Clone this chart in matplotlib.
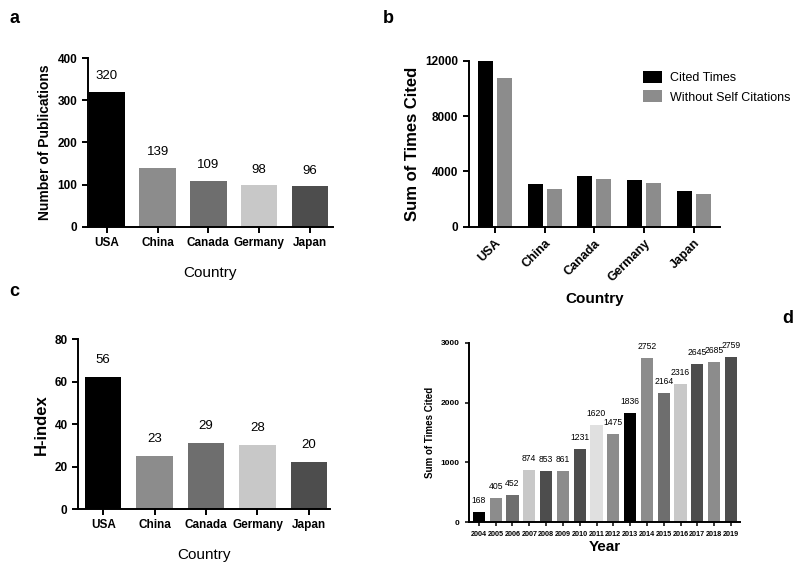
import matplotlib
matplotlib.use("Agg")
import matplotlib.pyplot as plt
import numpy as np

plt.rcParams["font.family"] = ["Liberation Sans", "DejaVu Sans"]

# data
countries = ["USA", "China", "Canada", "Germany", "Japan"]
country_colors = ["#000000", "#8c8c8c", "#6e6e6e", "#c8c8c8", "#4d4d4d"]
publications = [320, 139, 109, 98, 96]

cited_times = [12000, 3100, 3700, 3350, 2600]
without_self = [10750, 2700, 3450, 3150, 2400]

hindex_bars = [62, 25, 31, 30, 22]     # bar heights as drawn
hindex_labels = [56, 23, 29, 28, 20]   # numbers printed above the bars

years = [str(y) for y in range(2004, 2020)]
year_cited = [168, 405, 452, 874, 853, 861, 1231, 1620, 1475, 1836,
              2752, 2164, 2316, 2645, 2685, 2759]
year_colors = ["#000000", "#8c8c8c", "#6e6e6e", "#c8c8c8", "#4d4d4d", "#8c8c8c",
               "#4d4d4d", "#e0e0e0", "#8c8c8c", "#000000", "#8c8c8c", "#6e6e6e",
               "#c8c8c8", "#4d4d4d", "#8c8c8c", "#4d4d4d"]


def prism_axes(ax):
    for s in ["top", "right"]:
        ax.spines[s].set_visible(False)
    for s in ["left", "bottom"]:
        ax.spines[s].set_linewidth(1.4)
    ax.tick_params(direction="out", width=1.4, length=4)


fig = plt.figure(figsize=(8, 5.64), dpi=100)

# panel a
ax = fig.add_axes([0.110, 0.598, 0.306, 0.299])
x = np.arange(len(countries))
ax.bar(x, publications, width=0.72, color=country_colors)
for xi, v in zip(x, publications):
    ax.annotate(str(v), (xi, v), xytext=(0, 7), textcoords="offset points",
                ha="center", va="bottom", fontsize=9.5)
ax.set_xlim(-0.37, 4.45)
ax.set_ylim(0, 400)
ax.set_yticks([0, 100, 200, 300, 400])
ax.set_xticks(x)
ax.set_xticklabels(countries, fontweight="bold", fontsize=8.5)
for t in ax.get_yticklabels():
    t.set_fontweight("bold")
    t.set_fontsize(8.5)
ax.set_ylabel("Number of Publications", fontweight="bold", fontsize=10)
ax.set_xlabel("Country", fontsize=11, labelpad=12)
prism_axes(ax)

# panel b
ax = fig.add_axes([0.586, 0.598, 0.314, 0.294])
ax.bar(x - 0.19, cited_times, width=0.3, color="#000000", label="Cited Times")
ax.bar(x + 0.19, without_self, width=0.3, color="#8c8c8c", label="Without Self Citations")
ax.set_xlim(-0.52, 4.52)
ax.set_ylim(0, 12000)
ax.set_yticks([0, 4000, 8000, 12000])
ax.set_xticks(x)
ax.set_xticklabels(countries, fontweight="bold", fontsize=9, rotation=45,
                   ha="right", rotation_mode="anchor")
for t in ax.get_yticklabels():
    t.set_fontweight("bold")
    t.set_fontsize(8.5)
ax.set_ylabel("Sum of Times Cited", fontweight="bold", fontsize=12)
ax.set_xlabel("Country", fontweight="bold", fontsize=11, labelpad=6)
ax.legend(loc="upper left", bbox_to_anchor=(0.675, 0.97), frameon=False,
          fontsize=9, handlelength=1.5, handleheight=1.1, handletextpad=0.6,
          borderaxespad=0, labelspacing=0.5)
prism_axes(ax)

# panel c
ax = fig.add_axes([0.0975, 0.0975, 0.315, 0.301])
ax.bar(x, hindex_bars, width=0.71, color=country_colors)
for xi, h, lab in zip(x, hindex_bars, hindex_labels):
    ax.annotate(str(lab), (xi, h), xytext=(0, 8), textcoords="offset points",
                ha="center", va="bottom", fontsize=9.5)
ax.set_xlim(-0.49, 4.41)
ax.set_ylim(0, 80)
ax.set_yticks([0, 20, 40, 60, 80])
ax.set_xticks(x)
ax.set_xticklabels(countries, fontweight="bold", fontsize=8.5)
for t in ax.get_yticklabels():
    t.set_fontweight("bold")
    t.set_fontsize(8.5)
ax.set_ylabel("H-index", fontweight="bold", fontsize=12)
ax.set_xlabel("Country", fontsize=11, labelpad=12)
prism_axes(ax)

# panel d
ax = fig.add_axes([0.586, 0.074, 0.339, 0.318])
xd = np.arange(len(years))
ax.bar(xd, year_cited, width=0.73, color=year_colors)
for xi, v in zip(xd, year_cited):
    ax.annotate(str(v), (xi, v), xytext=(0, 5), textcoords="offset points",
                ha="center", va="bottom", fontsize=6.2)
ax.set_xlim(-0.6, 15.54)
ax.set_ylim(0, 3000)
ax.set_yticks([0, 1000, 2000, 3000])
ax.set_xticks(xd)
ax.set_xticklabels(years, fontweight="bold", fontsize=5.2)
for t in ax.get_yticklabels():
    t.set_fontweight("bold")
    t.set_fontsize(6)
ax.set_ylabel("Sum of Times Cited", fontweight="bold", fontsize=7)
ax.set_xlabel("Year", fontweight="bold", fontsize=11, labelpad=1)
prism_axes(ax)
ax.tick_params(length=3, width=1.1)

# panel letters
fig.text(0.012, 0.968, "a", fontsize=13, fontweight="bold", va="center")
fig.text(0.478, 0.968, "b", fontsize=13, fontweight="bold", va="center")
fig.text(0.012, 0.483, "c", fontsize=13, fontweight="bold", va="center")
fig.text(0.978, 0.435, "d", fontsize=13, fontweight="bold", va="center")

fig.savefig("out.png", dpi=100)
